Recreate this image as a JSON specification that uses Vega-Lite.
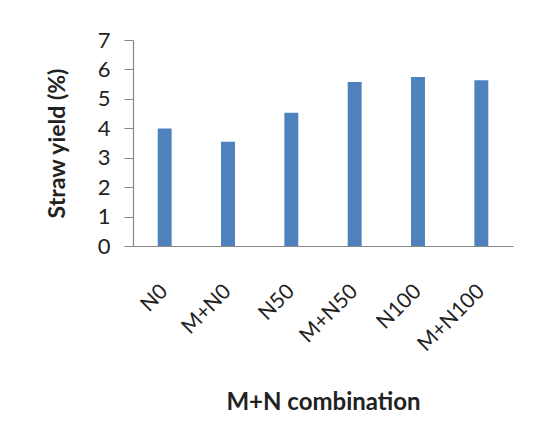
{
  "$schema": "https://vega.github.io/schema/vega-lite/v6.json",
  "width": 380,
  "height": 206,
  "autosize": "none",
  "padding": {"left": 133, "top": 40, "right": 24, "bottom": 199},
  "background": "white",
  "config": {
    "view": {"stroke": null},
    "font": "Lato"
  },
  "data": {
    "values": [
      {"combination": "N0", "yield": 3.99},
      {"combination": "M+N0", "yield": 3.54},
      {"combination": "N50", "yield": 4.53},
      {"combination": "M+N50", "yield": 5.57},
      {"combination": "N100", "yield": 5.74},
      {"combination": "M+N100", "yield": 5.63}
    ]
  },
  "mark": {"type": "bar", "color": "#4f81bd"},
  "encoding": {
    "x": {
      "field": "combination",
      "type": "nominal",
      "sort": null,
      "scale": {"paddingInner": 0.78, "paddingOuter": 0.39},
      "axis": {
        "title": "M+N combination",
        "titleFontSize": 24,
        "titleFontWeight": "bold",
        "titleColor": "#222",
        "titleY": 156,
        "titleBaseline": "middle",
        "labelAngle": -45,
        "labelAlign": "right",
        "labelBaseline": "middle",
        "labelFontSize": 21,
        "labelColor": "#222",
        "labelPadding": 42,
        "ticks": false,
        "domainColor": "#888",
        "domainWidth": 1.2
      }
    },
    "y": {
      "field": "yield",
      "type": "quantitative",
      "scale": {"domain": [0, 7]},
      "axis": {
        "title": "Straw yield (%)",
        "titleFontSize": 23,
        "titleFontWeight": "bold",
        "titleColor": "#222",
        "titleX": -76,
        "titleBaseline": "middle",
        "values": [0, 1, 2, 3, 4, 5, 6, 7],
        "labelFontSize": 22,
        "labelColor": "#222",
        "labelPadding": 14,
        "tickSize": 9,
        "tickColor": "#888",
        "domainColor": "#888",
        "domainWidth": 1.2,
        "grid": false
      }
    }
  }
}
